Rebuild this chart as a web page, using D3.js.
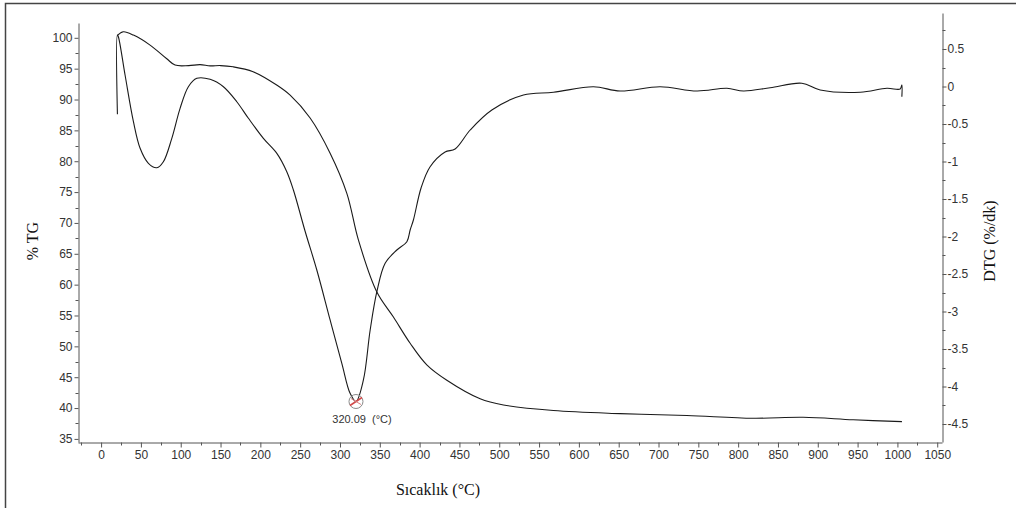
<!DOCTYPE html>
<html>
<head>
<meta charset="utf-8">
<script src="https://cdn.jsdelivr.net/npm/d3@7"></script>
<style>
  html, body { margin: 0; padding: 0; background: #fff; }
  svg { display: block; }
  .tick text { font-family: "Liberation Sans", Arial, sans-serif; font-size: 12px; fill: #333; }
  .axis path, .axis line { stroke: #555; }
</style>
</head>
<body>
<svg id="chart" width="1016" height="508"></svg>
<script>
// Thermogravimetric curve: temperature (°C) and remaining mass (%)
const tgTemp = [20.5, 28, 40.6, 61.5, 82.5, 92.9, 110, 124.3, 137, 150, 165.8, 190.9, 221, 237.4, 262.5, 287.6, 308.6,
  323.2, 346.3, 367.1, 388.1, 409, 434.2, 476, 505.3, 568, 651.8, 735.6, 818.9, 881.7, 944.5, 1005.7];
const tgMass = [100.4, 100.97, 100.44, 98.82, 96.6, 95.58, 95.5, 95.65, 95.45, 95.5, 95.3, 94.5, 92.3, 90.7, 87.0, 81.3, 74.8,
  67.2, 58.8, 54.75, 50.5, 47.0, 44.5, 41.5, 40.5, 39.6, 39.1, 38.8, 38.35, 38.5, 38.1, 37.8];

// Derivative curve: temperature (°C) and mass loss rate (%/dk)
const dtgTemp = [20.5, 20.5, 21.7, 30.1, 40.6, 49, 59.4, 70, 78.2, 88.8, 99.2, 109.6, 120.2, 136.9, 153.6, 170.4, 185,
  203.8, 220.7, 233.2, 241.5, 256.2, 270.9, 287.6, 302.3, 312.7, 320.09, 329.4, 337.9, 346.3, 356.7, 371.4, 384,
  388.1, 392.2, 401.9, 413.2, 432, 444.6, 463.5, 490.7, 530.4, 568.1, 618.3, 651.8, 702, 748.2, 785.9, 806.7,
  840.2, 880, 903, 953.3, 986.8, 1003.5, 1005.6, 1005.6];
const dtgRate = [-0.37, 0.687, 0.664, 0.153, -0.469, -0.824, -1.024, -1.083, -1.003, -0.691, -0.291, -0.003, 0.109, 0.096,
  -0.003, -0.203, -0.424, -0.691, -0.891, -1.136, -1.38, -1.93, -2.447, -3.113, -3.691, -4.091, -4.2, -3.913, -3.247,
  -2.736, -2.357, -2.18, -2.07, -1.913, -1.78, -1.35, -1.07, -0.873, -0.833, -0.58, -0.313, -0.113, -0.077, -0.003,
  -0.06, -0.003, -0.06, -0.024, -0.06, -0.016, 0.043, -0.047, -0.077, -0.024, -0.033, 0.02, -0.136];

// Marked peak of the derivative curve
const peakTemp = 320.09;
const peakRate = -4.2;

// Axis ticks
const xTicks = d3.range(0, 1051, 50);
const xMinor = d3.range(-25, 1051, 25).filter(v => v % 50 !== 0);
const tgTicks = d3.range(35, 101, 5);
const tgMinor = d3.range(37.5, 101, 5);
const dtgTicks = d3.range(-4.5, 0.51, 0.5).map(v => +v.toFixed(2));
const dtgMinor = d3.range(-4.25, 0.8, 0.5).map(v => +v.toFixed(2));

const svg = d3.select("#chart");

// Outer frame
svg.append("rect")
  .attr("x", 5.5).attr("y", 3.5).attr("width", 1030).attr("height", 520)
  .attr("fill", "none").attr("stroke", "#444").attr("stroke-width", 1.5);

const left = 78, right = 942, bottom = 442;

const x = d3.scaleLinear().domain([-29, 1056]).range([left, right]);
const yL = d3.scaleLinear().domain([34.5, 102.4]).range([bottom, 23]);
const yR = d3.scaleLinear().domain([-4.74, 0.98]).range([bottom, 13]);

// Minor ticks
function minor(g, vals, scale, orient) {
  g.selectAll("line.m").data(vals.filter(v => {
      const p = scale(v); const r = scale.range();
      return p >= Math.min(...r) && p <= Math.max(...r);
    })).join("line").attr("class", "m")
    .attr("stroke", "#777")
    .each(function(v) {
      const p = Math.round(scale(v)) + 0.5;
      const s = d3.select(this);
      if (orient === "bottom") s.attr("x1", p).attr("x2", p).attr("y1", 0).attr("y2", 3);
      else if (orient === "left") s.attr("y1", p).attr("y2", p).attr("x1", 0).attr("x2", -3);
      else s.attr("y1", p).attr("y2", p).attr("x1", 0).attr("x2", 3);
    });
}

// Plain hyphen-minus labels
const plain = d => String(d);

const gx = svg.append("g").attr("class", "axis").attr("transform", `translate(0,${bottom + 0.5})`)
  .call(d3.axisBottom(x).tickValues(xTicks).tickFormat(plain).tickSizeInner(5).tickSizeOuter(0).tickPadding(3));
minor(gx, xMinor, x, "bottom");

const gl = svg.append("g").attr("class", "axis").attr("transform", `translate(${left + 0.5},0)`)
  .call(d3.axisLeft(yL).tickValues(tgTicks).tickFormat(plain).tickSizeInner(4).tickSizeOuter(0).tickPadding(2));
minor(gl, tgMinor, yL, "left");

const gr = svg.append("g").attr("class", "axis").attr("transform", `translate(${right + 0.5},0)`)
  .call(d3.axisRight(yR).tickValues(dtgTicks).tickFormat(plain).tickSizeInner(4).tickSizeOuter(0).tickPadding(1));
minor(gr, dtgMinor, yR, "right");

svg.selectAll(".axis .tick text").attr("fill", "#333");
svg.selectAll(".axis .domain").attr("stroke", "#555");

// Curves
const tgLine = d3.line().x(d => x(d[0])).y(d => yL(d[1])).curve(d3.curveCatmullRom.alpha(0.5));
const dtgLine = d3.line().x(d => x(d[0])).y(d => yR(d[1])).curve(d3.curveCatmullRom.alpha(0.5));

svg.append("path").datum(tgTemp.map((t, i) => [t, tgMass[i]]))
  .attr("d", tgLine).attr("fill", "none").attr("stroke", "#1a1a1a").attr("stroke-width", 1.1);

svg.append("path").datum(dtgTemp.map((t, i) => [t, dtgRate[i]]))
  .attr("d", dtgLine).attr("fill", "none").attr("stroke", "#1a1a1a").attr("stroke-width", 1.1);

// Peak marker and its label
const px = x(peakTemp), py = yR(peakRate);
const mk = svg.append("g").attr("transform", `translate(${px},${py})`);
mk.append("circle").attr("r", 7).attr("fill", "none").attr("stroke", "#8a8a8a").attr("stroke-width", 1);
mk.append("line").attr("x1", -6).attr("y1", 4).attr("x2", 6).attr("y2", -4).attr("stroke", "#d24a4a").attr("stroke-width", 1.6);
mk.append("line").attr("x1", -5).attr("y1", -3).attr("x2", 5).attr("y2", 3).attr("stroke", "#d88080").attr("stroke-width", 1);

svg.append("text")
  .attr("x", px + 6).attr("y", py + 21)
  .attr("text-anchor", "middle")
  .style("white-space", "pre")
  .attr("font-family", "Liberation Sans, Arial, sans-serif").attr("font-size", 11).attr("fill", "#333")
  .text(d3.format(".2f")(peakTemp) + "  (°C)");

// Axis titles
const serif = "Liberation Serif, Times New Roman, serif";
svg.append("text").attr("transform", "translate(38,241) rotate(-90)")
  .attr("text-anchor", "middle").attr("font-family", serif).attr("font-size", 16).attr("fill", "#111")
  .text("% TG");
svg.append("text").attr("transform", "translate(995,241) rotate(-90)")
  .attr("text-anchor", "middle").attr("font-family", serif).attr("font-size", 16).attr("fill", "#111")
  .text("DTG (%/dk)");
svg.append("text").attr("x", 438).attr("y", 495)
  .attr("text-anchor", "middle").attr("font-family", serif).attr("font-size", 16).attr("fill", "#111")
  .text("Sıcaklık (°C)");
</script>
</body>
</html>
